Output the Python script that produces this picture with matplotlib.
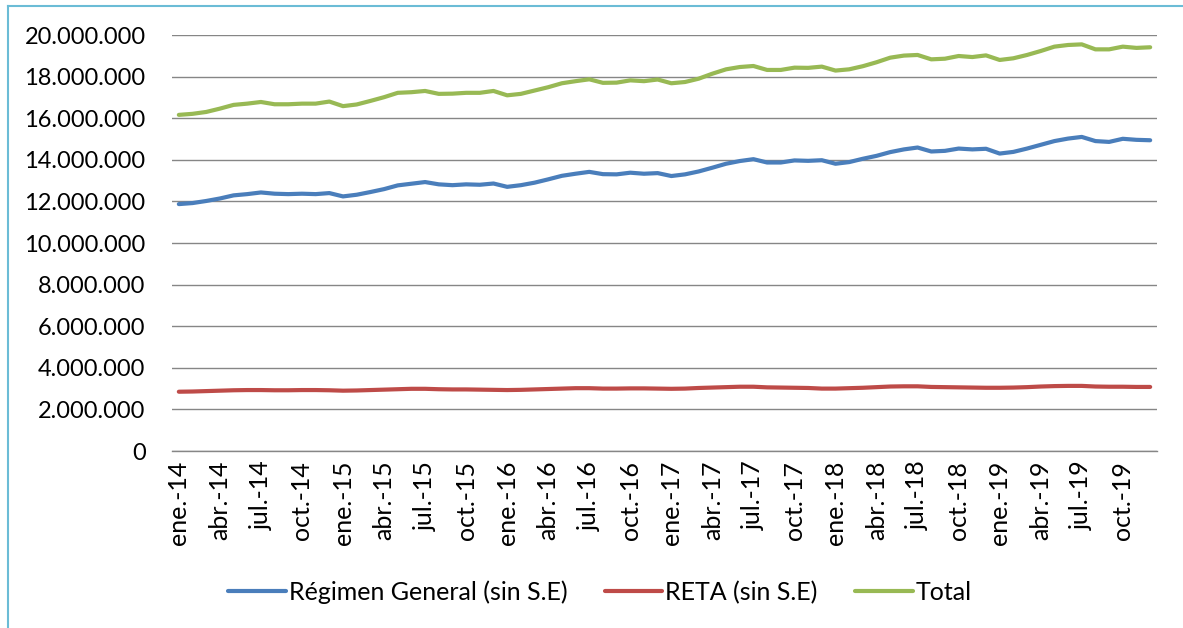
import matplotlib
matplotlib.use("Agg")
import matplotlib.pyplot as plt
from matplotlib.lines import Line2D
import numpy as np

# ---- data ----
months_es = ["ene.", "feb.", "mar.", "abr.", "may.", "jun.",
             "jul.", "ago.", "sep.", "oct.", "nov.", "dic."]
years = ["14", "15", "16", "17", "18", "19"]
categories = [f"{m}-{y}" for y in years for m in months_es]

regimen_general = [
    11.87, 11.92, 12.02, 12.14, 12.29, 12.35, 12.43, 12.37, 12.35, 12.37, 12.35, 12.40,
    12.24, 12.32, 12.45, 12.59, 12.77, 12.85, 12.93, 12.82, 12.78, 12.82, 12.80, 12.86,
    12.70, 12.78, 12.90, 13.06, 13.23, 13.33, 13.42, 13.31, 13.30, 13.38, 13.33, 13.36,
    13.22, 13.30, 13.44, 13.62, 13.81, 13.94, 14.03, 13.87, 13.87, 13.97, 13.95, 13.98,
    13.81, 13.89, 14.05, 14.19, 14.37, 14.50, 14.59, 14.40, 14.43, 14.54, 14.50, 14.53,
    14.30, 14.38, 14.54, 14.72, 14.90, 15.02, 15.10, 14.90, 14.86, 15.01, 14.96, 14.94,
]
reta = [
    2.85, 2.86, 2.88, 2.90, 2.92, 2.93, 2.93, 2.92, 2.92, 2.93, 2.93, 2.92,
    2.90, 2.91, 2.93, 2.95, 2.97, 2.99, 2.99, 2.97, 2.96, 2.96, 2.95, 2.94,
    2.93, 2.94, 2.96, 2.98, 3.00, 3.02, 3.02, 3.00, 3.00, 3.01, 3.01, 3.00,
    2.99, 3.00, 3.03, 3.05, 3.07, 3.09, 3.09, 3.06, 3.05, 3.04, 3.03, 3.00,
    3.00, 3.02, 3.04, 3.07, 3.10, 3.11, 3.11, 3.08, 3.07, 3.06, 3.05, 3.04,
    3.04, 3.05, 3.07, 3.10, 3.12, 3.13, 3.13, 3.10, 3.09, 3.09, 3.08, 3.08,
]
total = [
    16.16, 16.21, 16.30, 16.46, 16.64, 16.70, 16.78, 16.67, 16.67, 16.70, 16.70, 16.80,
    16.58, 16.66, 16.83, 17.01, 17.22, 17.25, 17.31, 17.17, 17.18, 17.22, 17.22, 17.31,
    17.10, 17.17, 17.33, 17.49, 17.68, 17.78, 17.87, 17.70, 17.71, 17.82, 17.78, 17.86,
    17.68, 17.74, 17.90, 18.14, 18.35, 18.46, 18.51, 18.32, 18.32, 18.43, 18.42, 18.48,
    18.29, 18.35, 18.50, 18.69, 18.91, 19.01, 19.04, 18.83, 18.86, 18.99, 18.94, 19.02,
    18.80, 18.88, 19.04, 19.23, 19.44, 19.52, 19.55, 19.31, 19.31, 19.44, 19.38, 19.41,
]
series_names = ["Régimen General (sin S.E)", "RETA (sin S.E)", "Total"]
yticks = [0, 2e6, 4e6, 6e6, 8e6, 10e6, 12e6, 14e6, 16e6, 18e6, 20e6]

# ---- figure ----
plt.rcParams['font.family'] = ['Lato', 'DejaVu Sans']
fig = plt.figure(figsize=(11.83, 6.28), dpi=100)
W, H = 1183, 628
ax = fig.add_axes([172 / W, 1 - 451 / H, (1157 - 172) / W, (451 - 35) / H])

x = np.arange(len(categories))
colors = ["#4A7EBB", "#BE4B48", "#98B954"]
for vals, name, c in zip([regimen_general, reta, total], series_names, colors):
    ax.plot(x, np.array(vals) * 1e6, color=c, lw=3.0, label=name,
            solid_capstyle="round", solid_joinstyle="round")

ax.set_xlim(-0.5, len(categories) - 0.5)
ax.set_ylim(0, 20e6)
ax.set_yticks(yticks)
ax.set_yticklabels([f"{int(v):,}".replace(",", ".") for v in yticks])
ax.set_xticks(x[::3])
ax.set_xticklabels(categories[::3], rotation=90)
ax.grid(axis="y", color="#868686", lw=1.0)
ax.set_axisbelow(True)
for s in ["left", "right", "top"]:
    ax.spines[s].set_visible(False)
ax.spines["bottom"].set_color("#868686")
ax.spines["bottom"].set_linewidth(1.0)
ax.tick_params(axis="y", length=0, pad=19, labelsize=17)
ax.tick_params(axis="x", length=0, pad=7, labelsize=18)

fig.legend(loc="center", bbox_to_anchor=(600 / W, 1 - 592 / H), ncol=3,
           frameon=False, fontsize=18, handlelength=2.3, handletextpad=0.12,
           columnspacing=1.5)

# chart-area border (top and left)
fig.add_artist(Line2D([8 / W, 1], [1 - 6 / H, 1 - 6 / H], color="#6BBCD6", lw=1.5,
                      transform=fig.transFigure))
fig.add_artist(Line2D([8 / W, 8 / W], [0, 1 - 6 / H], color="#6BBCD6", lw=1.5,
                      transform=fig.transFigure))

fig.savefig("out.png", dpi=100)
